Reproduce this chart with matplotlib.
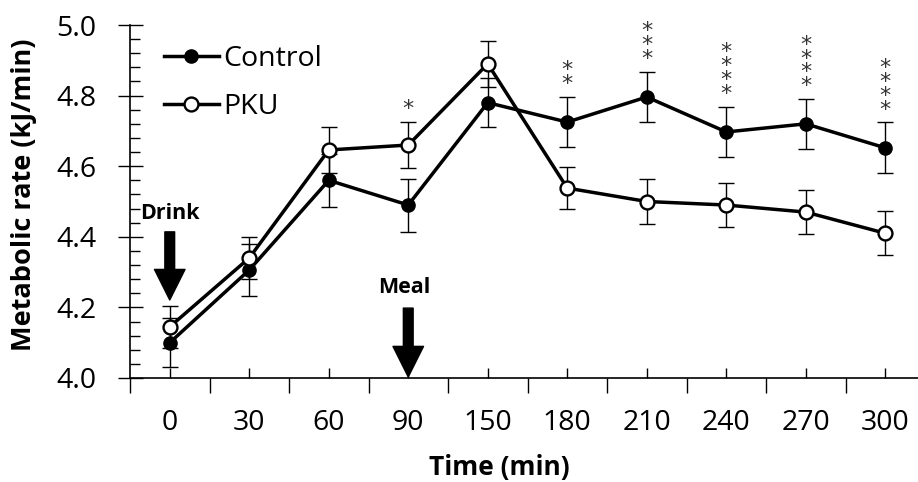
import numpy as np
import matplotlib
matplotlib.use('Agg')
import matplotlib.pyplot as plt
from matplotlib.ticker import MultipleLocator

plt.rcParams['font.family'] = ['Open Sans', 'DejaVu Sans']

# data
times = ['0', '30', '60', '90', '150', '180', '210', '240', '270', '300']
control = [4.10, 4.306, 4.56, 4.49, 4.78, 4.725, 4.796, 4.697, 4.72, 4.652]
control_err = [0.07, 0.075, 0.075, 0.075, 0.07, 0.072, 0.072, 0.072, 0.07, 0.072]
pku = [4.145, 4.34, 4.646, 4.66, 4.89, 4.538, 4.50, 4.49, 4.47, 4.41]
pku_err = [0.06, 0.06, 0.065, 0.065, 0.065, 0.06, 0.065, 0.062, 0.063, 0.062]
stars = [0, 0, 0, 1, 0, 2, 3, 4, 4, 4]

x = np.arange(len(times))

fig = plt.figure(figsize=(9.18, 4.82), dpi=100)
ax = fig.add_axes([130 / 918, 1 - 378 / 482, 795 / 918, 353 / 482])

ax.errorbar(x, control, yerr=control_err, fmt='none', ecolor='black',
            elinewidth=1, capsize=6, capthick=1, zorder=2)
ax.errorbar(x, pku, yerr=pku_err, fmt='none', ecolor='black',
            elinewidth=1, capsize=6, capthick=1, zorder=2)
ax.plot(x, control, '-o', color='black', lw=2.5, ms=9.5,
        mfc='black', mec='black', label='Control', zorder=3)
ax.plot(x, pku, '-o', color='black', lw=2.5, ms=10,
        mfc='white', mec='black', mew=1.7, label='PKU', zorder=4)

# significance asterisks stacked above the higher error bar
for i, n in enumerate(stars):
    if n == 0:
        continue
    top = max(control[i] + control_err[i], pku[i] + pku_err[i])
    ax.annotate('\n'.join(['*'] * n), xy=(x[i], top), xytext=(0, 2),
                textcoords='offset points', ha='center', va='bottom',
                fontsize=16, color='#333333', family='DejaVu Sans',
                linespacing=0.62, multialignment='center')

# event arrows
arrow = dict(arrowstyle='simple,head_length=1.0,head_width=1.0,tail_width=0.32',
             color='black', mutation_scale=22, shrinkA=0, shrinkB=0)
ax.annotate('', xy=(0, 4.221), xytext=(0, 4.414), arrowprops=arrow)
ax.text(0, 4.467, 'Drink', ha='center', va='center', fontsize=15.5, fontweight='bold')
ax.annotate('', xy=(3, 4.003), xytext=(3, 4.198), arrowprops=arrow)
ax.text(2.95, 4.255, 'Meal', ha='center', va='center', fontsize=15.5, fontweight='bold')

ax.set_xlim(-0.5, 9.5)
ax.set_ylim(4.0, 5.0)
ax.set_xticks(x - 0.5)
ax.set_xticklabels([])
ax.set_xticks(x, minor=True)
ax.set_xticklabels(times, minor=True, fontsize=20.5)
ax.tick_params(axis='x', which='major', direction='out', length=11, width=1)
ax.tick_params(axis='x', which='minor', direction='in', length=7, width=1, pad=22)

ax.yaxis.set_major_locator(MultipleLocator(0.2))
ax.yaxis.set_minor_locator(MultipleLocator(0.04))
ax.set_yticks(np.arange(4.0, 5.01, 0.2))
ax.set_yticklabels(['%.1f' % v for v in np.arange(4.0, 5.01, 0.2)], fontsize=20.5)
ax.tick_params(axis='y', which='major', direction='inout', length=18, width=1, pad=15)
ax.tick_params(axis='y', which='minor', direction='in', length=7, width=1)

for s in ['top', 'right']:
    ax.spines[s].set_visible(False)
for s in ['left', 'bottom']:
    ax.spines[s].set_linewidth(1.2)

fig.text(24 / 918, 1 - 195 / 482, 'Metabolic rate (kJ/min)', rotation=90,
         ha='center', va='center', fontsize=19.5, fontweight='bold')
fig.text(499 / 918, 1 - 467 / 482, 'Time (min)', ha='center', va='center',
         fontsize=19, fontweight='bold')

ax.legend(loc='upper left', bbox_to_anchor=(0.028, 0.975), frameon=False,
          fontsize=20.5, handlelength=1.95, handletextpad=0.15,
          labelspacing=0.7, borderaxespad=0)

fig.savefig('out.png', dpi=100)
